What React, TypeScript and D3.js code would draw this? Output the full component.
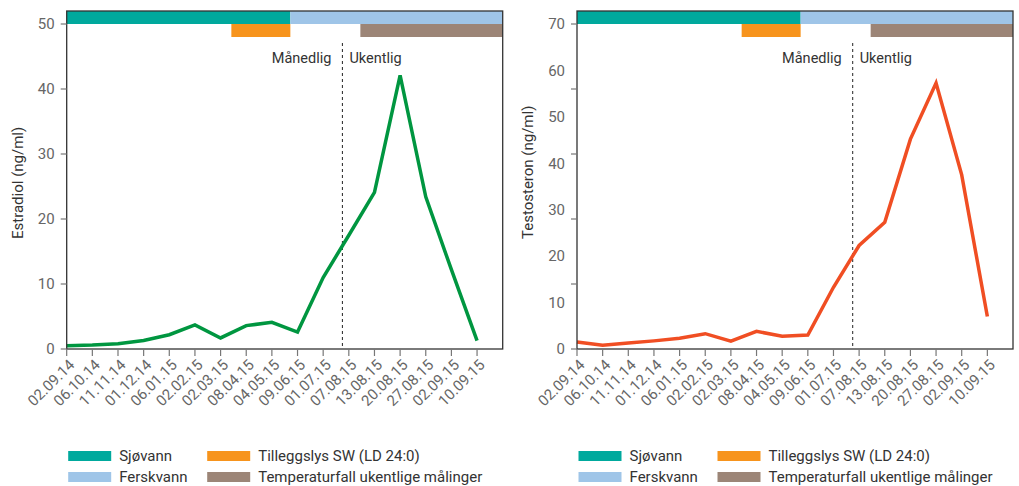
import React from "react";
import * as d3 from "d3";

// Sampling dates (monthly, then weekly)
const dates = [
  "02.09.14", "06.10.14", "11.11.14", "01.12.14", "06.01.15", "02.02.15",
  "02.03.15", "08.04.15", "04.05.15", "09.06.15", "01.07.15", "07.08.15",
  "13.08.15", "20.08.15", "27.08.15", "02.09.15", "10.09.15",
];

// Plasma concentrations (ng/ml)
const estradiol = [0.5, 0.6, 0.8, 1.3, 2.2, 3.7, 1.7, 3.6, 4.1, 2.6, 11, 17.5, 24.1, 42.1, 23.4, 12.2, 1.3];
const testosteron = [1.5, 0.8, 1.3, 1.75, 2.3, 3.3, 1.7, 3.8, 2.75, 3.0, 13.3, 22.3, 27.3, 45.2, 57.3, 37.5, 7.0];

// Y axis labels for each panel
const estradiolTicks = [0, 10, 20, 30, 40, 50];
const testosteronLabels = [0, 10, 20, 30, 40, 50, 60, 70];
const testosteronTickMarks = [0, 14, 28, 42, 56, 70];

// Rearing phases, in sampling-index units along the time axis
const seawaterSpan = [0, 8.72];
const freshwaterSpan = [8.72, 17];
const extraLightSpan = [6.42, 8.72];
const tempDropSpan = [11.45, 17];
const samplingSwitch = 10.75;

const COLORS = {
  sea: "#00a99d",
  fresh: "#9fc5e8",
  light: "#f7941d",
  temp: "#9c8577",
};

const legendItems = [
  { label: "Sjøvann", color: COLORS.sea, col: 0, row: 0 },
  { label: "Ferskvann", color: COLORS.fresh, col: 0, row: 1 },
  { label: "Tilleggslys SW (LD 24:0)", color: COLORS.light, col: 1, row: 0 },
  { label: "Temperaturfall ukentlige målinger", color: COLORS.temp, col: 1, row: 1 },
];

const FONT = "Roboto, 'Noto Sans', sans-serif";

type PanelProps = {
  left: number;
  values: number[];
  color: string;
  title: string;
  yMax: number;
  yRef: number;
  labels: number[];
  marks: number[];
};

function Panel({ left, values, color, title, yMax, yRef, labels, marks }: PanelProps) {
  const width = 436;
  const top = 11;
  const bottom = 349;
  const x = d3.scaleLinear().domain([0, dates.length]).range([left, left + width]);
  const y = d3.scaleLinear().domain([0, yMax]).range([bottom, top]);
  const band = yMax - yRef;

  const line = d3
    .line<number>()
    .x((_, i) => x(i))
    .y((d) => y(d));

  const bar = (span: number[], y0: number, y1: number, fill: string, key: string) => (
    <rect key={key} x={x(span[0])} width={x(span[1]) - x(span[0])} y={y(y1)} height={y(y0) - y(y1)} fill={fill} />
  );

  const xs = x(samplingSwitch);

  return (
    <g>
      {bar(seawaterSpan, yRef, yMax, COLORS.sea, "sea")}
      {bar(freshwaterSpan, yRef, yMax, COLORS.fresh, "fresh")}
      {bar(extraLightSpan, yRef - band, yRef, COLORS.light, "light")}
      {bar(tempDropSpan, yRef - band, yRef, COLORS.temp, "temp")}

      <line x1={xs} x2={xs} y1={43} y2={bottom} stroke="#222" strokeWidth={1} strokeDasharray="3,3" />
      <text x={xs - 11} y={63} textAnchor="end" fontSize={14.5} fill="#333" fontFamily={FONT}>
        Månedlig
      </text>
      <text x={xs + 7} y={63} textAnchor="start" fontSize={14.5} fill="#333" fontFamily={FONT}>
        Ukentlig
      </text>

      <path d={line(values) || ""} fill="none" stroke={color} strokeWidth={3.5} strokeLinejoin="miter" />

      <rect x={left} y={top} width={width} height={bottom - top} fill="none" stroke="#333" strokeWidth={1.3} />

      {marks.map((m) => (
        <line key={"m" + m} x1={left - 6} x2={left} y1={y(m)} y2={y(m)} stroke="#777" strokeWidth={1.2} />
      ))}
      {labels.map((t) => (
        <text key={"l" + t} x={left - 12} y={y(t)} dy="0.35em" textAnchor="end" fontSize={15} fill="#666" fontFamily={FONT}>
          {t}
        </text>
      ))}

      {dates.map((d, i) => (
        <g key={d}>
          <line x1={x(i)} x2={x(i)} y1={bottom} y2={bottom + 7} stroke="#777" strokeWidth={1.2} />
          <text
            transform={`translate(${x(i) + 5},${bottom + 13}) rotate(-45)`}
            textAnchor="end"
            dy="0.35em"
            fontSize={15}
            fill="#666"
            fontFamily={FONT}
          >
            {d}
          </text>
        </g>
      ))}

      <text
        transform={`translate(${left - 44},239) rotate(-90)`}
        textAnchor="start"
        fontSize={15}
        fill="#333"
        fontFamily={FONT}
      >
        {title}
      </text>

      {legendItems.map((it) => {
        const lx = left + 1.5 + it.col * 139;
        const ly = 451 + it.row * 21;
        return (
          <g key={it.label}>
            <rect x={lx} y={ly} width={43} height={10} fill={it.color} />
            <text x={lx + 51} y={ly + 10} fontSize={15} fill="#333" fontFamily={FONT}>
              {it.label}
            </text>
          </g>
        );
      })}
    </g>
  );
}

export default function App() {
  return (
    <svg width={1019} height={486} style={{ position: "absolute", left: 0, top: 0, background: "#fff" }}>
      <Panel
        left={66.7}
        values={estradiol}
        color="#009640"
        title="Estradiol (ng/ml)"
        yMax={52}
        yRef={50}
        labels={estradiolTicks}
        marks={estradiolTicks}
      />
      <Panel
        left={577}
        values={testosteron}
        color="#f04e23"
        title="Testosteron (ng/ml)"
        yMax={72.8}
        yRef={70}
        labels={testosteronLabels}
        marks={testosteronTickMarks}
      />
    </svg>
  );
}
